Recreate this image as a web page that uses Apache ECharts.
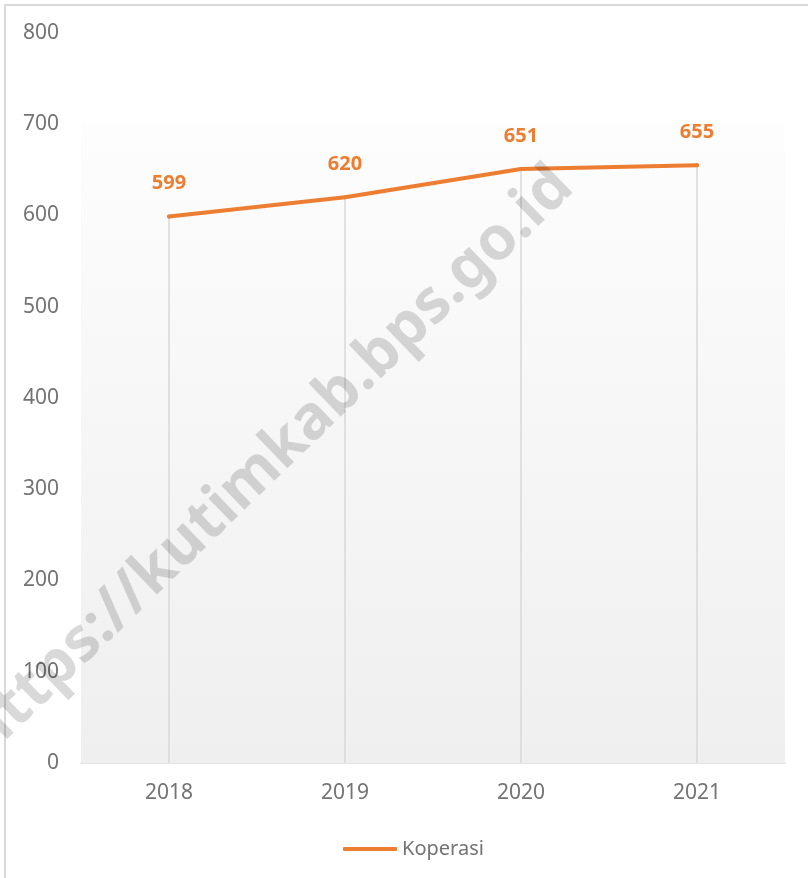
<!DOCTYPE html>
<html>
<head>
<meta charset="utf-8">
<script src="https://cdn.jsdelivr.net/npm/echarts@6/dist/echarts.min.js"></script>
<style>
html,body{margin:0;padding:0;background:#fff;}
#chart{width:808px;height:878px;}
</style>
</head>
<body>
<div id="chart"></div>
<script>
const categories = ['2018', '2019', '2020', '2021'];
const koperasi = [599, 620, 651, 655];
const seriesName = 'Koperasi';
const yMin = 0, yMax = 800, yStep = 100;
const backgroundTop = 700;

const chart = echarts.init(document.getElementById('chart'));
const font = '"Noto Sans", "Open Sans", sans-serif';
const gray = '#737373';
chart.setOption({
  backgroundColor: '#ffffff',
  animation: false,
  textStyle: { fontFamily: font },
  grid: { left: 81, right: 23, top: 33, bottom: 115 },
  graphic: [
    {
      type: 'rect', silent: true, z: -10,
      shape: { x: 5, y: 5, width: 820, height: 900 },
      style: { fill: 'none', stroke: '#d9d9d9', lineWidth: 2 }
    },
    {
      type: 'text', silent: true, z: 100,
      x: 270, y: 461, rotation: 44 * Math.PI / 180,
      style: {
        text: 'https://kutimkab.bps.go.id',
        font: 'bold 61px ' + font,
        fill: 'rgba(0,0,0,0.15)',
        align: 'center', verticalAlign: 'middle'
      }
    }
  ],
  legend: {
    data: [{ name: seriesName, icon: 'roundRect' }],
    left: 338, top: 834,
    itemWidth: 54, itemHeight: 4, itemGap: 10,
    textStyle: { color: gray, fontSize: 20, fontFamily: font }
  },
  xAxis: {
    type: 'category',
    data: categories,
    boundaryGap: true,
    axisLine: { show: true, lineStyle: { color: '#d9d9d9', width: 1.5 } },
    axisTick: { show: false },
    axisLabel: { color: gray, fontSize: 21, margin: 20, fontFamily: font },
    splitLine: { show: false }
  },
  yAxis: {
    type: 'value',
    min: yMin, max: yMax, interval: yStep,
    axisLine: { show: false },
    axisTick: { show: false },
    splitLine: { show: false },
    axisLabel: { color: gray, fontSize: 21, margin: 22, fontFamily: font }
  },
  series: [
    {
      name: 'drop',
      type: 'bar',
      data: koperasi,
      barWidth: 1.5,
      itemStyle: { color: '#d9d9d9' },
      silent: true,
      z: 1,
      markArea: {
        silent: true,
        itemStyle: {
          color: {
            type: 'linear', x: 0, y: 0, x2: 0, y2: 1,
            colorStops: [
              { offset: 0, color: '#fdfdfd' },
              { offset: 1, color: '#efefef' }
            ]
          }
        },
        data: [[{ yAxis: yMin }, { yAxis: backgroundTop }]]
      }
    },
    {
      name: seriesName,
      type: 'line',
      data: koperasi,
      symbol: 'circle',
      symbolSize: 4,
      showSymbol: true,
      z: 5,
      lineStyle: { color: '#ED7D31', width: 4, cap: 'round', join: 'round' },
      itemStyle: { color: '#ED7D31' },
      label: {
        show: true, position: 'top', distance: 21,
        color: '#ED7D31', fontWeight: 'bold', fontSize: 20, fontFamily: font
      }
    }
  ]
});
</script>
</body>
</html>
